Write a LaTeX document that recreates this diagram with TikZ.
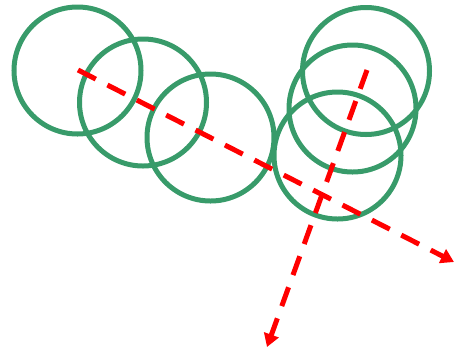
\documentclass[tikz,border=0pt]{standalone}
\usetikzlibrary{arrows.meta}
\definecolor{ringgreen}{RGB}{56,155,106}
\begin{document}
\begin{tikzpicture}[x=1pt,y=-1pt,
  ring/.style={circle, draw=ringgreen, line width=5pt, minimum size=127pt, inner sep=0pt},
  flow/.style={draw=red, line width=5pt, dash pattern=on 20pt off 13pt, -{Triangle[length=13pt,width=15pt]}}]
\useasboundingbox (0,0) rectangle (454,349);
\node[ring] (c1) at (77.5,70.5) {};
\node[ring] (c2) at (143,102.5) {};
\node[ring] (c3) at (210.5,137.5) {};
\node[ring] (c4) at (366,71) {};
\node[ring] (c5) at (352.5,108.5) {};
\node[ring] (c6) at (337.5,155.5) {};
\coordinate (s1) at (78,70);
\coordinate (e1) at (454,262);
\coordinate (s2) at (367,70);
\coordinate (e2) at (267,347);
\draw[flow] (s1) -- (e1);
\draw[flow] (s2) -- (e2);
\end{tikzpicture}
\end{document}
